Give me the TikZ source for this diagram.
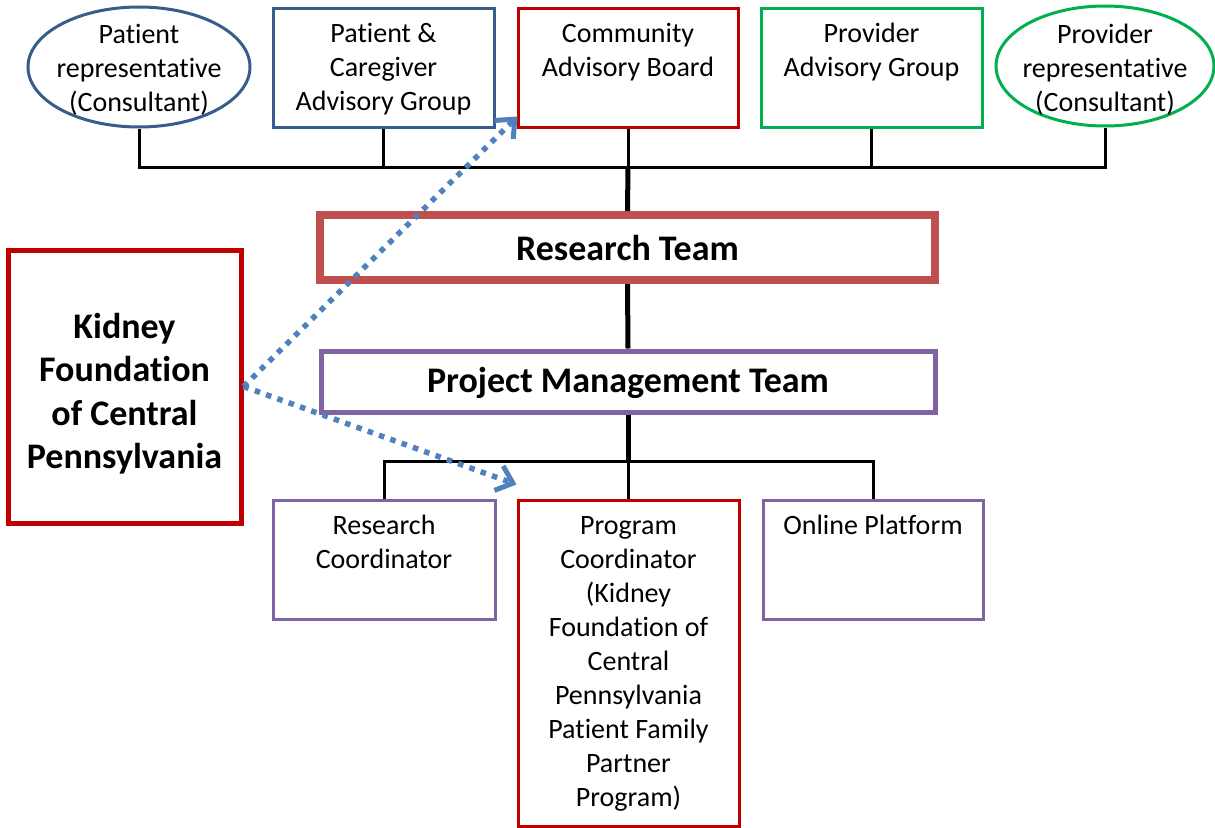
\documentclass[tikz,border=0pt]{standalone}
\usepackage{fontspec}
\setmainfont{Carlito}[Ligatures=NoCommon]
\usetikzlibrary{shapes.geometric,arrows.meta,calc}
\definecolor{navy}{HTML}{385D8A}
\definecolor{crimson}{HTML}{C00000}
\definecolor{leaf}{HTML}{00B050}
\definecolor{brick}{HTML}{C0504D}
\definecolor{plum}{HTML}{8064A2}
\definecolor{sky}{HTML}{4F81BD}
% text block hung from the top of a box: [gap above], width, height, lines
\newcommand\boxtext[4][11pt]{\parbox[c][#3pt][t]{#2pt}{\centering\vspace*{#1}\strut#4\par}}
\begin{document}
\begin{tikzpicture}[x=1pt,y=-1pt,
  txt/.style={font=\fontsize{28}{34}\selectfont},
  frame/.style={draw, rectangle, inner sep=0pt, line width=3pt, txt},
  oval/.style={draw, ellipse, inner xsep=-40pt, inner ysep=-18pt,
    minimum width=#1, minimum height=120pt, line width=3pt, txt},
  heavy/.style={draw, rectangle, inner sep=0pt, align=center,
    font=\fontsize{36}{43.5}\selectfont\bfseries},
  bus/.style={line width=3pt},
  trunk/.style={line width=5pt},
  link/.style={draw=sky, line width=5.5pt, dash pattern=on 5.5pt off 6.5pt,
    -{Straight Barb[length=15pt,width=26pt,line width=5pt]}}
]
\path[use as bounding box, fill=white] (0,0) rectangle (1215,827);

% advisory row
\node[oval=222pt, draw=navy] (pr) at (139,67)
  {\boxtext[12.5pt]{210}{120}{Patient\\representative\\(Consultant)}};
\node[frame, draw=navy] (pcg) at (383.5,67.5)
  {\boxtext{221}{119}{Patient \&\\Caregiver\\Advisory Group}};
\node[frame, draw=crimson] (cab) at (628,67.5)
  {\boxtext{220}{119}{Community\\Advisory Board}};
\node[frame, draw=leaf] (pag) at (871.5,67.5)
  {\boxtext{221}{119}{Provider\\Advisory Group}};
\node[oval=218pt, draw=leaf] (prv) at (1105,66)
  {\boxtext[13.5pt]{210}{120}{Provider\\representative\\(Consultant)}};

% core teams
\node[heavy, draw=brick, line width=8pt, minimum width=615pt, minimum height=65pt]
  (rt) at (627.5,247.5) {Research Team};
\node[heavy, draw=plum, line width=5pt, minimum width=614pt, minimum height=61pt]
  (pmt) at (628,381.5) {\raisebox{-2pt}[27pt][9pt]{Project Management Team}};
\node[draw=crimson, line width=5pt, rectangle, inner sep=0pt,
    font=\fontsize{36}{43.5}\selectfont\bfseries] (kf) at (124.5,386.5)
  {\boxtext[58pt]{233}{273}{Kidney\\Foundation\\of Central\\Pennsylvania}};

% staff row
\node[frame, draw=plum] (rc) at (384,559.5)
  {\boxtext{222}{119}{Research\\Coordinator}};
\node[frame, draw=crimson] (pc) at (628.5,663)
  {\boxtext{221}{326}{Program\\Coordinator\\(Kidney\\Foundation of\\Central\\Pennsylvania\\Patient Family\\Partner\\Program)}};
\node[frame, draw=plum] (op) at (873,559.5)
  {\boxtext{220}{119}{Online Platform}};

% bus levels
\coordinate (tb) at (628,167);
\coordinate (bb) at (628,461);

% organisation lines
\draw[bus] (pr.south) -- (pr.south |- tb) -- (prv.south |- tb) -- (prv.south);
\foreach \n in {pcg,cab,pag} \draw[bus] (\n.south) -- (\n.south |- tb);
\draw[trunk] (cab.south |- tb) -- (rt.north);
\draw[trunk] (rt.south) -- (pmt.north);
\draw[trunk] (pmt.south) -- (pmt.south |- bb);
\draw[bus] (rc.north) -- (rc.north |- bb) -- (op.north |- bb) -- (op.north);
\draw[bus] (pc.north) -- (pc.north |- bb);

% foundation links
\draw[link] (kf.east) -- ($(cab.south west)+(1,-12)$);
\draw[link] (kf.east) -- ($(pc.north west)+(0,-14)$);
\end{tikzpicture}
\end{document}
